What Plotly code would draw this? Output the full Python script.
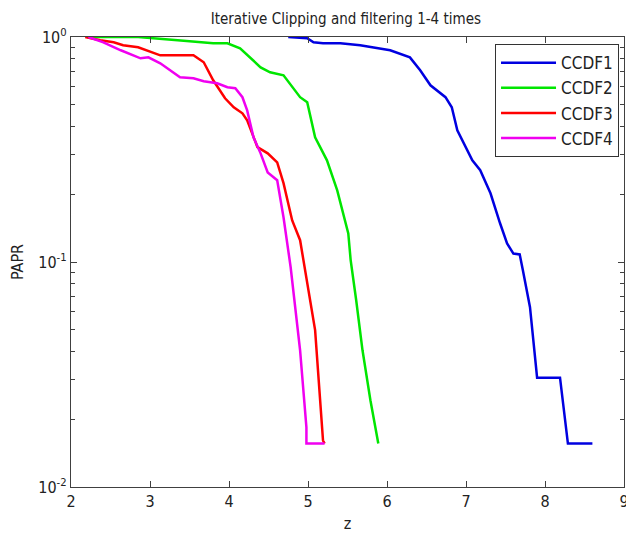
import plotly.graph_objects as go

# CCDF1 (blue)
x1 = [4.75, 4.99, 5.07, 5.19, 5.41, 5.66, 6.04, 6.29, 6.42, 6.55, 6.74, 6.82, 6.89, 7.08, 7.18,
      7.31, 7.43, 7.52, 7.60, 7.68, 7.72, 7.81, 7.90, 8.19, 8.29, 8.60]
y1 = [1.0, 0.987, 0.947, 0.938, 0.938, 0.918, 0.873, 0.812, 0.711, 0.61, 0.54, 0.487, 0.385, 0.283, 0.256,
      0.202, 0.149, 0.121, 0.109, 0.108, 0.092, 0.063, 0.0306, 0.0306, 0.0156, 0.0156]

# CCDF2 (green)
x2 = [2.20, 2.85, 3.35, 3.68, 3.80, 3.98, 4.14, 4.40, 4.52, 4.69, 4.90, 4.99, 5.09, 5.24, 5.37,
      5.51, 5.54, 5.61, 5.69, 5.79, 5.89]
y2 = [1.0, 1.0, 0.967, 0.947, 0.938, 0.938, 0.891, 0.733, 0.697, 0.676, 0.54, 0.513, 0.358, 0.283, 0.208,
      0.134, 0.102, 0.0676, 0.0405, 0.0243, 0.0156]

# CCDF3 (red)
x3 = [2.18, 2.37, 2.54, 2.66, 2.85, 3.01, 3.13, 3.55, 3.68, 3.80, 3.95, 4.06, 4.17, 4.23, 4.36,
      4.49, 4.61, 4.69, 4.80, 4.90, 5.09, 5.19, 5.21]
y3 = [1.0, 0.967, 0.947, 0.919, 0.90, 0.855, 0.829, 0.829, 0.772, 0.642, 0.534, 0.487, 0.458, 0.426, 0.324,
      0.304, 0.277, 0.224, 0.153, 0.125, 0.0498, 0.0161, 0.0156]

# CCDF4 (magenta)
x4 = [2.22, 2.41, 2.63, 2.88, 2.98, 3.13, 3.38, 3.55, 3.68, 3.85, 3.98, 4.08, 4.17, 4.23, 4.31,
      4.40, 4.49, 4.61, 4.69, 4.78, 4.90, 4.98, 4.98, 5.21]
y4 = [1.0, 0.947, 0.873, 0.804, 0.812, 0.764, 0.662, 0.655, 0.636, 0.623, 0.598, 0.592, 0.54, 0.472, 0.358,
      0.304, 0.25, 0.231, 0.158, 0.095, 0.0405, 0.0184, 0.0156, 0.0156]

names = ["CCDF1", "CCDF2", "CCDF3", "CCDF4"]
colors = ["#0000e0", "#00e600", "#ff0000", "#f000f0"]

xtickvals = [2, 3, 4, 5, 6, 7, 8, 9]
ytickvals = [0.01, 0.1, 1]
yticktext = ["10<sup>-2</sup>", "10<sup>-1</sup>", "10<sup>0</sup>"]
yminor = [m * d for d in (0.01, 0.1) for m in range(2, 10)]

FONT = "DejaVu Sans Condensed, Liberation Sans Narrow, Liberation Sans, sans-serif"
AX = "#404040"

fig = go.Figure()
for xs, ys, n, c in zip([x1, x2, x3, x4], [y1, y2, y3, y4], names, colors):
    fig.add_trace(go.Scatter(x=xs, y=ys, mode="lines", name=n,
                             line=dict(color=c, width=2.5)))

fig.update_layout(
    width=626, height=533,
    margin=dict(l=70.5, r=2, t=36.7, b=46.3, autoexpand=False),
    paper_bgcolor="white", plot_bgcolor="white",
    font=dict(family=FONT, size=16, color="#222222"),
    title=dict(text="Iterative Clipping and filtering 1-4 times", x=0.5525, xanchor="center",
               y=0.965, yanchor="middle", font=dict(size=15, family=FONT, color="#222222")),
    showlegend=True,
    legend=dict(x=0.991, xanchor="right", y=0.984, yanchor="top",
                bgcolor="white", bordercolor="#333333", borderwidth=1,
                itemwidth=55,
                font=dict(size=17, family=FONT), tracegroupgap=0),
    xaxis=dict(range=[2, 9], tickvals=xtickvals, ticks="inside", ticklen=6,
               ticklabeloverflow="allow",
               tickcolor=AX, showline=True, linecolor=AX, linewidth=1.3, mirror="ticks",
               showgrid=False, zeroline=False,
               title=dict(text="z", standoff=8, font=dict(size=16, family=FONT))),
    yaxis=dict(type="log", range=[-2, 0], tickvals=ytickvals, ticktext=yticktext,
               ticks="inside", ticklen=6, tickcolor=AX, showline=True, linecolor=AX,
               linewidth=1.3, mirror="ticks", showgrid=False, zeroline=False,
               minor=dict(tickvals=yminor, ticks="inside", ticklen=4, tickcolor=AX),
               title=dict(text="PAPR", standoff=10, font=dict(size=16, family=FONT))),
)

fig.write_html("out.html", config={"displayModeBar": False},
               post_script="document.body.style.margin='0';")
